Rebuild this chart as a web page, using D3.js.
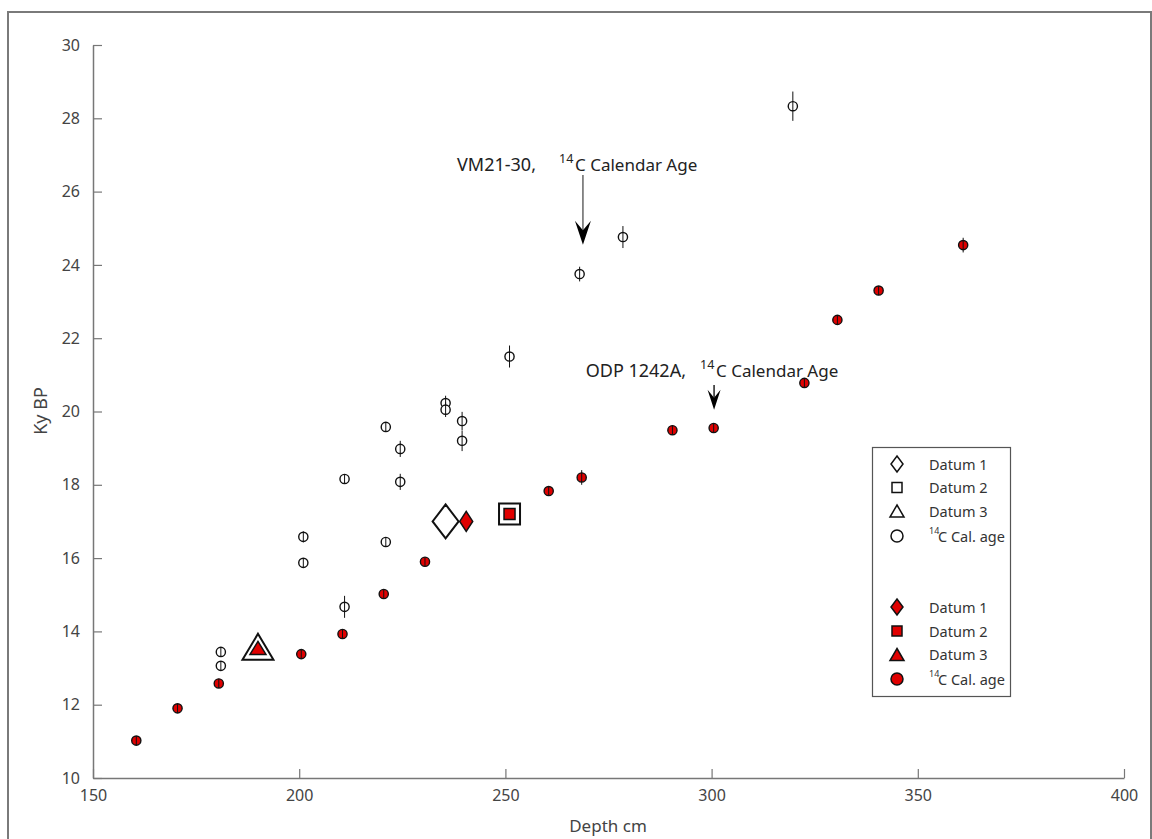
<!DOCTYPE html>
<html>
<head>
<meta charset="utf-8">
<script src="https://cdn.jsdelivr.net/npm/d3@7"></script>
<style>
  body{margin:0;background:#fff;overflow:hidden;}
  svg{display:block;font-family:"Noto Sans","Open Sans",sans-serif;}
</style>
</head>
<body>
<div id="chart"></div>
<script>
// VM21-30 14C calendar ages (open circles): depth cm, ky BP, error ky
var vmDepth = [181, 181, 201, 201, 211, 211, 221, 221, 224.5, 224.5, 235.5, 235.5, 239.5, 239.5, 251, 268, 278.5, 319.7]
var vmAge   = [13.44, 13.06, 16.58, 15.87, 14.67, 18.16, 19.58, 16.44, 18.98, 18.08, 20.23, 20.05, 19.74, 19.2, 21.5, 23.75, 24.76, 28.33]
var vmErr   = [0.1, 0.1, 0.15, 0.1, 0.3, 0.1, 0.1, 0.1, 0.22, 0.22, 0.2, 0.2, 0.25, 0.28, 0.3, 0.2, 0.3, 0.4]

// ODP 1242A 14C calendar ages (red circles)
var odpDepth = [160.5, 170.5, 180.5, 200.5, 210.5, 220.5, 230.5, 260.5, 268.5, 290.5, 300.5, 322.5, 330.5, 340.5, 361]
var odpAge   = [11.02, 11.9, 12.58, 13.38, 13.93, 15.02, 15.9, 17.83, 18.2, 19.49, 19.55, 20.78, 22.5, 23.3, 24.54]
var odpErr   = [0.05, 0.05, 0.08, 0.08, 0.08, 0.08, 0.08, 0.08, 0.2, 0.08, 0.08, 0.08, 0.08, 0.12, 0.2]

// datums for VM21-30 (open, large) and ODP 1242A (red, small)
var vmDatums  = [{type:"diamond", d:235.5, a:17.0}, {type:"square", d:251, a:17.2}, {type:"triangle", d:190, a:13.58}]
var odpDatums = [{type:"diamond", d:240.5, a:17.0}, {type:"square", d:251, a:17.2}, {type:"triangle", d:190, a:13.55}]

var xTicks = [150, 200, 250, 300, 350, 400]
var yTicks = [10, 12, 14, 16, 18, 20, 22, 24, 26, 28, 30]
var legendLabels = ["Datum 1", "Datum 2", "Datum 3", "C Cal. age"]
var legendTypes = ["diamond", "square", "triangle", "circle"]

var W = 1152, H = 839
var red = "#e00000"

var svg = d3.select("#chart").append("svg").attr("width", W).attr("height", H)

// outer frame (bottom edge runs off the page)
svg.append("rect").attr("x", 8).attr("y", 12).attr("width", 1143).attr("height", 840)
    .attr("fill", "#fff").attr("stroke", "#7a7a7a").attr("stroke-width", 2)

var x = d3.scaleLinear().domain([150, 400]).range([93, 1124])
var y = d3.scaleLinear().domain([10, 30]).range([778, 45])

// axes, ticks pointing inward
var gx = svg.append("g").attr("transform", "translate(0,778)")
    .call(d3.axisBottom(x).tickValues(xTicks).tickSize(-9).tickPadding(14).tickSizeOuter(0))
var gy = svg.append("g").attr("transform", "translate(93,0)")
    .call(d3.axisLeft(y).tickValues(yTicks).tickSize(-9).tickPadding(13).tickSizeOuter(0))
;[gx, gy].forEach(function(g){
  g.select(".domain").attr("stroke", "#777").attr("stroke-width", 1.5)
  g.selectAll(".tick line").attr("stroke", "#777").attr("stroke-width", 1.2)
  g.selectAll(".tick text").attr("fill", "#444").style("font-size", "16px")
      .style("font-family", "'Noto Sans',sans-serif")
})
gx.selectAll(".tick text").attr("dy", "0.55em")

svg.append("text").attr("x", 608).attr("y", 832).attr("text-anchor", "middle")
    .attr("fill", "#444").style("font-size", "17px").text("Depth cm")
svg.append("text").attr("transform", "translate(47,411) rotate(-90)").attr("text-anchor", "middle")
    .attr("fill", "#444").style("font-size", "18px").text("Ky BP")

function shapePath(type, hw, hh){
  if(type=="diamond") return "M0,"+(-hh)+"L"+hw+",0L0,"+hh+"L"+(-hw)+",0Z"
  if(type=="square") return "M"+(-hw)+","+(-hh)+"H"+hw+"V"+hh+"H"+(-hw)+"Z"
  if(type=="triangle") return "M0,"+(-hh)+"L"+hw+","+hh+"L"+(-hw)+","+hh+"Z"
}

var bigSize = {diamond:[13,17], square:[10.5,10.5], triangle:[15.5,13]}
var smallSize = {diamond:[6.5,10], square:[5.5,5.5], triangle:[8,6.5]}
vmDatums.forEach(function(p){
  var s = bigSize[p.type]
  svg.append("path").attr("d", shapePath(p.type, s[0], s[1]))
     .attr("transform", "translate("+x(p.d)+","+y(p.a)+")")
     .attr("fill", "#fff").attr("stroke", "#111").attr("stroke-width", 2)
})
odpDatums.forEach(function(p){
  var s = smallSize[p.type]
  svg.append("path").attr("d", shapePath(p.type, s[0], s[1]))
     .attr("transform", "translate("+x(p.d)+","+y(p.a)+")")
     .attr("fill", red).attr("stroke", "#111").attr("stroke-width", 1.5)
})

// error bars + circles
function drawSeries(depths, ages, errs, fill){
  var g = svg.append("g")
  depths.forEach(function(d, i){
    var cx = x(d), cy = y(ages[i])
    var e = Math.max(y(ages[i]-errs[i]) - cy, 4.5)
    g.append("circle").attr("cx", cx).attr("cy", cy).attr("r", 4.6)
      .attr("fill", fill).attr("stroke", "#111").attr("stroke-width", 1.4)
    g.append("line").attr("x1", cx).attr("x2", cx)
      .attr("y1", cy - e).attr("y2", cy + e)
      .attr("stroke", "#111").attr("stroke-width", 1)
  })
}
drawSeries(vmDepth, vmAge, vmErr, "#fff")
drawSeries(odpDepth, odpAge, odpErr, red)

// annotations with arrows
function arrow(d, a0, a1, headW, headH, lineCol){
  var xp = x(d), y0 = y(a0), y1 = y(a1)
  svg.append("line").attr("x1", xp).attr("x2", xp).attr("y1", y0).attr("y2", y1 - headH*0.6)
     .attr("stroke", lineCol).attr("stroke-width", 1.5)
  svg.append("path")
     .attr("d", "M"+xp+","+y1+"L"+(xp-headW/2)+","+(y1-headH)+"L"+xp+","+(y1-headH*0.6)+"L"+(xp+headW/2)+","+(y1-headH)+"Z")
     .attr("fill", "#000")
}
arrow(268.8, 26.45, 24.55, 16, 24, "#666")
arrow(300.6, 20.72, 20.05, 13, 20, "#222")

function annot(labelEnd, ty, label, supX){
  svg.append("text").attr("x", labelEnd).attr("y", ty).attr("fill", "#222")
     .attr("text-anchor", "end").style("font-size", "18px").text(label)
  svg.append("text").attr("x", supX).attr("y", ty - 8).attr("fill", "#222")
     .style("font-size", "12.5px").text("14")
  svg.append("text").attr("x", supX + 16).attr("y", ty).attr("fill", "#222")
     .style("font-size", "17px").text("C Calendar Age")
}
annot(536, 171, "VM21-30,", 559)
annot(686, 377, "ODP 1242A,", 700)

// legend
var lg = svg.append("g")
lg.append("rect").attr("x", 872.5).attr("y", 447.5).attr("width", 138).attr("height", 249)
  .attr("fill", "#fff").attr("stroke", "#555").attr("stroke-width", 1.2)
var legSize = {diamond:[6,8], square:[5,5], triangle:[7,6]}
var rowsTop = [464, 487.5, 511, 536]
var rowsBot = [607, 631, 654.5, 679]
function legendRows(rows, fill){
  legendTypes.forEach(function(t, i){
    var cy = rows[i]
    if(t=="circle"){
      lg.append("circle").attr("cx", 897).attr("cy", cy).attr("r", 6)
        .attr("fill", fill).attr("stroke", "#111").attr("stroke-width", 1.5)
      lg.append("text").attr("x", 929).attr("y", cy - 2).attr("fill", "#333")
        .style("font-size", "9px").text("14")
      lg.append("text").attr("x", 938).attr("y", cy + 5.5).attr("fill", "#333")
        .style("font-size", "14.5px").text(legendLabels[i])
    }else{
      var s = legSize[t]
      lg.append("path").attr("d", shapePath(t, s[0], s[1]))
        .attr("transform", "translate(897,"+cy+")")
        .attr("fill", fill).attr("stroke", "#111").attr("stroke-width", 1.5)
      lg.append("text").attr("x", 929).attr("y", cy + 5.5).attr("fill", "#333")
        .style("font-size", "14.5px").text(legendLabels[i])
    }
  })
}
legendRows(rowsTop, "#fff")
legendRows(rowsBot, red)
</script>
</body>
</html>
